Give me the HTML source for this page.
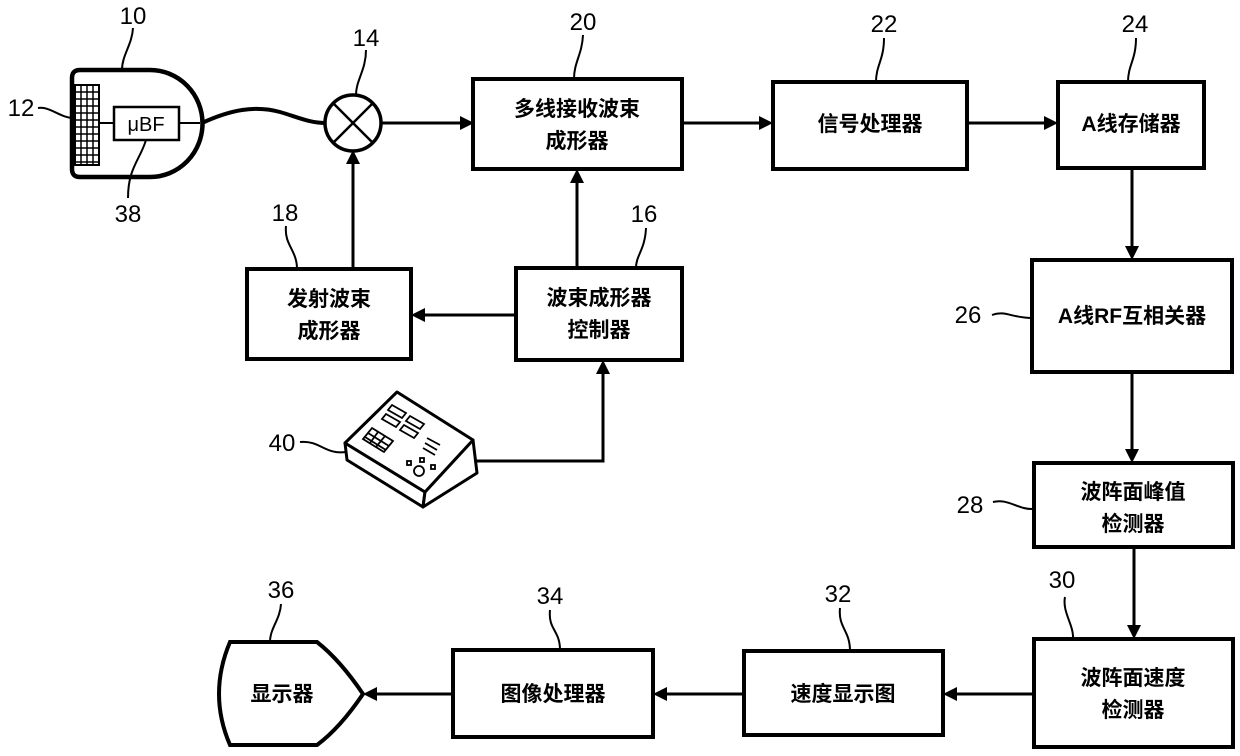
<!DOCTYPE html>
<html><head><meta charset="utf-8"><style>
html,body{margin:0;padding:0;background:#fff;}
svg{display:block;}
text{font-family:"Liberation Sans","Noto Sans CJK SC",sans-serif;font-weight:bold;fill:#000;}
.t{font-size:21px;text-anchor:middle;}
.n{font-size:24px;text-anchor:middle;font-weight:normal;}
</style></head><body>
<svg width="1240" height="756" viewBox="0 0 1240 756" xmlns="http://www.w3.org/2000/svg">
<g fill="none" stroke="#000">
<g stroke-width="4" fill="#fff">
<rect x="473" y="79" width="209" height="90"/>
<rect x="773" y="82" width="194" height="87"/>
<rect x="1058" y="82" width="146" height="86"/>
<rect x="1032" y="260" width="200" height="112"/>
<rect x="1034" y="463" width="199" height="84"/>
<rect x="1034" y="639" width="199" height="108"/>
<rect x="744" y="651" width="199" height="84"/>
<rect x="453" y="650" width="200" height="87"/>
<rect x="247" y="269" width="164" height="90"/>
<rect x="516" y="268" width="166" height="92"/>
<path d="M230,642 L317,642 Q340,660 363,694 Q340,728 317,745 L230,745 Q208,694 230,642 Z"/>
<path d="M80,70 L120,70 L150,70 A52,53 0 0 1 150,177 L80,177 Q72,177 72,169 L72,78 Q72,70 80,70 Z" stroke-width="4.5"/>
</g>
<g stroke-width="3">
<path d="M382,123 H462"/>
<path d="M682,123 H762"/>
<path d="M967,123 H1047"/>
<path d="M1132,168 V248"/>
<path d="M1132,372 V451"/>
<path d="M1134,547 V627"/>
<path d="M1034,694 H955"/>
<path d="M744,694 H665"/>
<path d="M453,694 H375"/>
<path d="M353,269 V162"/>
<path d="M577,268 V181"/>
<path d="M516,315 H423"/>
<path d="M476,461 H603 V372"/>
</g>
<path d="M202,123 C230,110 255,105 280,112 C300,118 310,123 326,123" stroke-width="4"/>
<circle cx="353" cy="123" r="28" stroke-width="3.5" fill="#fff"/>
<path d="M333,103 L373,143 M373,103 L333,143" stroke-width="2.5"/>
<path d="M99,123 H114 M179,123 H200" stroke-width="2"/>
<rect x="114" y="107" width="65" height="33" stroke-width="2.5" fill="#fff"/>
<rect x="75" y="85" width="24" height="80" stroke-width="2"/>
<path d="M81,85V165M87,85V165M93,85V165M75,92H99M75,99H99M75,106H99M75,113H99M75,120H99M75,127H99M75,134H99M75,141H99M75,148H99M75,155H99M75,162H99" stroke-width="1.5"/>
<g stroke-width="2">
<path d="M133,28 C132,45 122,55 122,70"/>
<path d="M38,108 C50,106 60,118 74,118"/>
<path d="M366,50 C366,70 356,80 356,95"/>
<path d="M146,140 C140,160 128,168 128,198"/>
<path d="M286,226 C284,245 297,250 297,269"/>
<path d="M583,35 C582,55 574,62 574,79"/>
<path d="M884,38 C884,60 876,65 876,82"/>
<path d="M1136,38 C1136,60 1128,65 1128,82"/>
<path d="M646,228 C645,250 636,255 636,268"/>
<path d="M992,315 C1005,310 1012,318 1032,318"/>
<path d="M993,502 C1008,498 1018,510 1034,509"/>
<path d="M1065,597 C1062,612 1074,625 1073,639"/>
<path d="M840,608 C838,628 850,630 850,651"/>
<path d="M550,610 C548,630 560,630 560,650"/>
<path d="M281,604 C280,620 270,628 270,642"/>
<path d="M300,442 C320,440 325,455 346,452"/>
</g>
<g stroke-width="3" stroke-linejoin="round" fill="#fff">
<path d="M345,443 L425,492 L423,507 L347,460 Z"/>
<path d="M425,492 L473,440 L477,473 L423,507 Z"/>
<path d="M397,392 L473,440 L425,492 L345,443 Z"/>
</g>
<g stroke-width="1.8">
<path d="M392,405 L406,413 L402,418 L388,410 Z"/>
<path d="M386,414 L400,422 L396,427 L382,419 Z"/>
<path d="M410,416 L424,424 L420,429 L406,421 Z"/>
<path d="M404,425 L418,433 L414,438 L400,430 Z"/>
<path d="M372,428 L393,441 L384,452 L363,439 Z"/>
<path d="M368,433 L389,446 M365,437 L386,450 M378,432 L370,443 M385,436 L376,447"/>
<path d="M427,438 L440,445 M425,443 L437,450 M423,448 L435,455"/>
<circle cx="419" cy="471" r="5"/>
<rect x="407" y="461" width="4" height="4"/>
<rect x="420" y="458" width="4" height="4"/>
<rect x="431" y="465" width="4" height="4"/>
</g>
</g>
<g fill="#000">
<path d="M474,123 L460,116 L460,130 Z"/>
<path d="M773,123 L759,116 L759,130 Z"/>
<path d="M1058,123 L1044,116 L1044,130 Z"/>
<path d="M1132,260 L1125,246 L1139,246 Z"/>
<path d="M1132,463 L1125,449 L1139,449 Z"/>
<path d="M1134,639 L1127,625 L1141,625 Z"/>
<path d="M943,694 L957,687 L957,701 Z"/>
<path d="M653,694 L667,687 L667,701 Z"/>
<path d="M363,694 L377,687 L377,701 Z"/>
<path d="M353,150 L346,164 L360,164 Z"/>
<path d="M577,169 L570,183 L584,183 Z"/>
<path d="M411,315 L425,308 L425,322 Z"/>
<path d="M603,360 L596,374 L610,374 Z"/>
</g>
<text class="t" x="577" y="116">多线接收波束</text>
<text class="t" x="577" y="148">成形器</text>
<text class="t" x="870" y="131">信号处理器</text>
<text class="t" x="1131" y="131">A线存储器</text>
<text class="t" x="1132" y="323">A线RF互相关器</text>
<text class="t" x="1133" y="499">波阵面峰值</text>
<text class="t" x="1133" y="531">检测器</text>
<text class="t" x="1133" y="685">波阵面速度</text>
<text class="t" x="1133" y="717">检测器</text>
<text class="t" x="843" y="701">速度显示图</text>
<text class="t" x="553" y="701">图像处理器</text>
<text class="t" x="282" y="701">显示器</text>
<text class="t" x="329" y="306">发射波束</text>
<text class="t" x="329" y="338">成形器</text>
<text class="t" x="599" y="305">波束成形器</text>
<text class="t" x="599" y="337">控制器</text>
<text x="146" y="131" style="font-size:20px;font-weight:normal;text-anchor:middle">μBF</text>
<text class="n" x="133" y="24">10</text>
<text class="n" x="21" y="116">12</text>
<text class="n" x="366" y="46">14</text>
<text class="n" x="128" y="222">38</text>
<text class="n" x="285" y="221">18</text>
<text class="n" x="583" y="30">20</text>
<text class="n" x="884" y="32">22</text>
<text class="n" x="1135" y="32">24</text>
<text class="n" x="644" y="222">16</text>
<text class="n" x="968" y="323">26</text>
<text class="n" x="970" y="513">28</text>
<text class="n" x="1062" y="588">30</text>
<text class="n" x="838" y="602">32</text>
<text class="n" x="550" y="604">34</text>
<text class="n" x="281" y="598">36</text>
<text class="n" x="282" y="451">40</text>
</svg>
</body></html>
